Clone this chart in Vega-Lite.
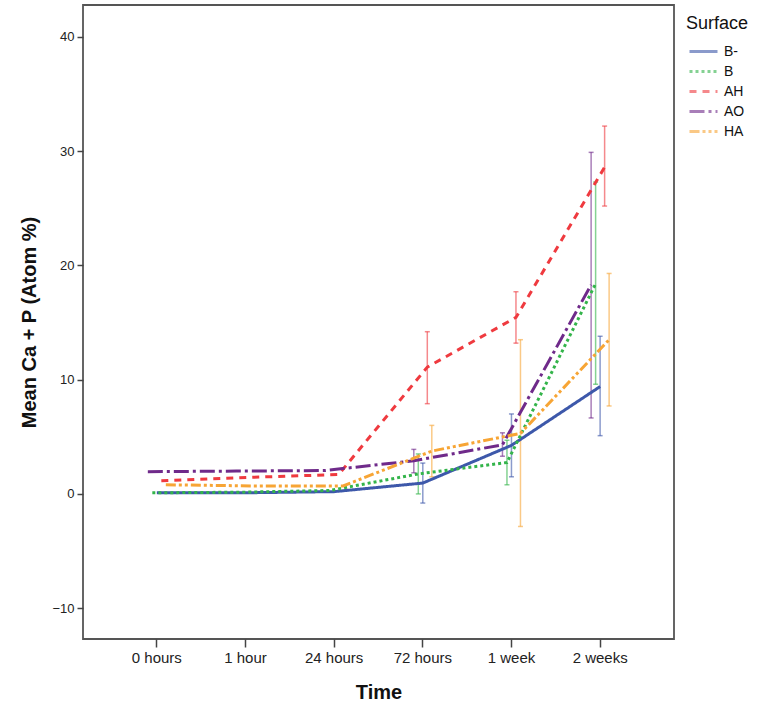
{
  "$schema": "https://vega.github.io/schema/vega-lite/v6.json",
  "width": 591,
  "height": 634,
  "autosize": {"type": "none"},
  "padding": {"left": 83, "top": 5, "right": 86, "bottom": 74},
  "background": "white",
  "config": {
    "font": "Liberation Sans",
    "view": {"stroke": "#555555", "strokeWidth": 1.8},
    "axis": {
      "grid": false,
      "domain": false,
      "tickColor": "#444444",
      "tickWidth": 1.5,
      "labelColor": "#222222",
      "labelFont": "Liberation Sans",
      "titleFont": "Liberation Sans",
      "titleFontWeight": "bold",
      "titleColor": "#111111",
      "titleFontSize": 20
    },
    "legend": {
      "orient": "none",
      "legendX": 603,
      "legendY": 10,
      "titleFont": "Liberation Sans",
      "titleFontSize": 18,
      "titleFontWeight": "normal",
      "titleColor": "#111111",
      "labelFont": "Liberation Sans",
      "labelFontSize": 14,
      "labelColor": "#111111",
      "symbolType": "M-2,0H2",
      "symbolSize": 196,
      "symbolStrokeWidth": 3,
      "symbolOffset": 9,
      "rowPadding": 4,
      "titlePadding": 10,
      "labelOffset": 12
    }
  },
  "data": {
    "values": [
      {"time": "0 hours", "s": "B-", "mean": 0.1, "lo": null, "hi": null},
      {"time": "0 hours", "s": "B", "mean": 0.1, "lo": null, "hi": null},
      {"time": "0 hours", "s": "AH", "mean": 1.15, "lo": null, "hi": null},
      {"time": "0 hours", "s": "AO", "mean": 1.95, "lo": null, "hi": null},
      {"time": "0 hours", "s": "HA", "mean": 0.8, "lo": null, "hi": null},
      {"time": "1 hour", "s": "B-", "mean": 0.1, "lo": null, "hi": null},
      {"time": "1 hour", "s": "B", "mean": 0.15, "lo": null, "hi": null},
      {"time": "1 hour", "s": "AH", "mean": 1.45, "lo": null, "hi": null},
      {"time": "1 hour", "s": "AO", "mean": 2.0, "lo": null, "hi": null},
      {"time": "1 hour", "s": "HA", "mean": 0.7, "lo": null, "hi": null},
      {"time": "24 hours", "s": "B-", "mean": 0.2, "lo": null, "hi": null},
      {"time": "24 hours", "s": "B", "mean": 0.3, "lo": null, "hi": null},
      {"time": "24 hours", "s": "AH", "mean": 1.7, "lo": null, "hi": null},
      {"time": "24 hours", "s": "AO", "mean": 2.05, "lo": null, "hi": null},
      {"time": "24 hours", "s": "HA", "mean": 0.7, "lo": null, "hi": null},
      {"time": "72 hours", "s": "B-", "mean": 0.95, "lo": -0.8, "hi": 2.7},
      {"time": "72 hours", "s": "B", "mean": 1.75, "lo": 0.0, "hi": 3.5},
      {"time": "72 hours", "s": "AH", "mean": 11.1, "lo": 7.9, "hi": 14.2},
      {"time": "72 hours", "s": "AO", "mean": 2.9, "lo": 1.85, "hi": 3.9},
      {"time": "72 hours", "s": "HA", "mean": 3.75, "lo": 1.5, "hi": 6.0},
      {"time": "1 week", "s": "B-", "mean": 4.25, "lo": 1.5, "hi": 7.0},
      {"time": "1 week", "s": "B", "mean": 2.75, "lo": 0.8, "hi": 4.7},
      {"time": "1 week", "s": "AH", "mean": 15.45, "lo": 13.2, "hi": 17.7},
      {"time": "1 week", "s": "AO", "mean": 4.3, "lo": 3.3, "hi": 5.35},
      {"time": "1 week", "s": "HA", "mean": 5.3, "lo": -2.85, "hi": 13.5},
      {"time": "2 weeks", "s": "B-", "mean": 9.4, "lo": 5.1, "hi": 13.8},
      {"time": "2 weeks", "s": "B", "mean": 18.4, "lo": 9.6, "hi": 27.3},
      {"time": "2 weeks", "s": "AH", "mean": 28.6, "lo": 25.2, "hi": 32.2},
      {"time": "2 weeks", "s": "AO", "mean": 18.3, "lo": 6.65, "hi": 29.9},
      {"time": "2 weeks", "s": "HA", "mean": 13.5, "lo": 7.7, "hi": 19.3}
    ]
  },
  "encoding": {
    "x": {
      "field": "time",
      "type": "nominal",
      "sort": ["0 hours", "1 hour", "24 hours", "72 hours", "1 week", "2 weeks"],
      "scale": {"type": "band", "paddingInner": 0, "paddingOuter": 0.333},
      "axis": {"labelAngle": 0, "tickSize": 8, "labelPadding": 3, "labelFontSize": 15, "title": "Time", "titlePadding": 17}
    },
    "xOffset": {
      "field": "s",
      "type": "nominal",
      "scale": {"type": "point", "domain": ["AO", "B", "B-", "AH", "HA"], "range": [35.3, 53.3], "padding": 0}
    },
    "color": {
      "field": "s",
      "type": "nominal",
      "title": "Surface",
      "scale": {
        "domain": ["B-", "B", "AH", "AO", "HA"],
        "range": ["#3d58aa", "#33b44a", "#ef3a3f", "#6f2a8a", "#f7a535"]
      }
    }
  },
  "layer": [
    {
      "mark": {"type": "rule", "strokeWidth": 1.5, "opacity": 0.6},
      "encoding": {
        "y": {"field": "lo", "type": "quantitative"},
        "y2": {"field": "hi"}
      }
    },
    {
      "mark": {"type": "tick", "size": 5, "thickness": 1.5, "opacity": 0.6},
      "encoding": {"y": {"field": "lo", "type": "quantitative"}}
    },
    {
      "mark": {"type": "tick", "size": 5, "thickness": 1.5, "opacity": 0.6},
      "encoding": {"y": {"field": "hi", "type": "quantitative"}}
    },
    {
      "mark": {"type": "line", "strokeWidth": 3},
      "encoding": {
        "y": {
          "field": "mean",
          "type": "quantitative",
          "scale": {"domain": [-12.7, 42.8], "nice": false, "zero": false},
          "axis": {"values": [-10, 0, 10, 20, 30, 40], "tickSize": 6, "labelPadding": 3, "labelFontSize": 13, "title": "Mean Ca + P (Atom %)", "titlePadding": 12}
        },
        "strokeDash": {
          "field": "s",
          "type": "nominal",
          "title": "Surface",
          "scale": {
            "domain": ["B-", "B", "AH", "AO", "HA"],
            "range": [[1, 0], [3, 3], [7, 6], [15, 4, 3, 4], [10, 3, 3, 3, 3, 3]]
          }
        }
      }
    }
  ]
}
